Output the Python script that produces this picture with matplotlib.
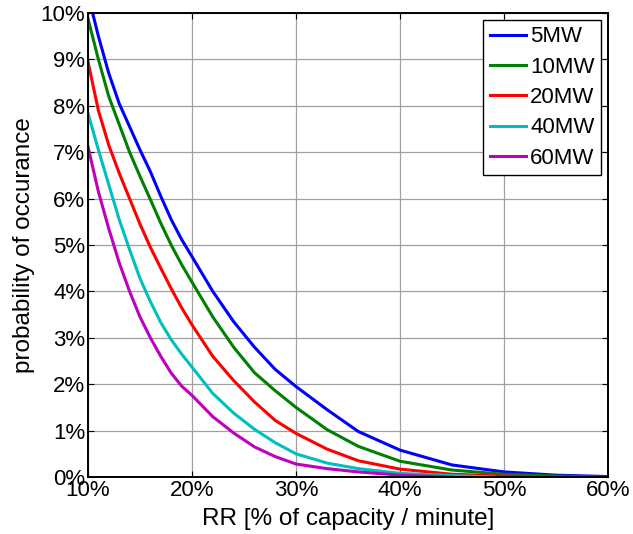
import matplotlib.pyplot as plt
from matplotlib.ticker import FuncFormatter

plt.rcParams['font.family'] = ['Liberation Sans', 'DejaVu Sans']

# ramp rate, % of capacity per minute
rr = [10, 11, 12, 13, 14, 15, 16, 17, 18, 19, 20, 22, 24, 26, 28, 30, 33, 36, 40, 45, 50, 55, 60]

# probability of occurance, %
p5 = [10.4, 9.5, 8.7, 8.05, 7.55, 7.05, 6.58, 6.05, 5.55, 5.12, 4.75, 4.0, 3.35, 2.8, 2.32, 1.95, 1.45, 0.98, 0.58, 0.26, 0.11, 0.04, 0.01]
p10 = [9.88, 9.0, 8.2, 7.6, 7.0, 6.48, 5.98, 5.47, 5.0, 4.58, 4.2, 3.45, 2.8, 2.25, 1.86, 1.5, 1.02, 0.66, 0.34, 0.15, 0.06, 0.02, 0.0]
p20 = [8.95, 7.9, 7.15, 6.55, 6.0, 5.45, 4.95, 4.5, 4.06, 3.65, 3.28, 2.6, 2.08, 1.62, 1.22, 0.94, 0.6, 0.35, 0.17, 0.06, 0.02, 0.0]
p40 = [7.84, 7.05, 6.3, 5.55, 4.9, 4.28, 3.78, 3.33, 2.96, 2.65, 2.37, 1.8, 1.38, 1.03, 0.74, 0.5, 0.3, 0.18, 0.08, 0.03, 0.0]
p60 = [7.12, 6.15, 5.35, 4.62, 4.0, 3.45, 3.0, 2.6, 2.24, 1.96, 1.76, 1.3, 0.95, 0.65, 0.44, 0.28, 0.18, 0.11, 0.04, 0.0]

# where each series ends (last x value)
rr20 = rr[:21] + [56]
rr40 = rr[:20] + [49]
rr60 = rr[:19] + [45]

fig = plt.figure(figsize=(6.33, 5.34), dpi=100)
ax = fig.add_axes([0.139, 0.1067, 0.8215, 0.869])

lw = 2.2
ax.plot(rr, p5, color=(0, 0, 1), lw=lw, label='5MW')
ax.plot(rr, p10, color=(0, 0.5, 0), lw=lw, label='10MW')
ax.plot(rr20, p20, color=(1, 0, 0), lw=lw, label='20MW')
ax.plot(rr40, p40, color=(0, 0.75, 0.75), lw=lw, label='40MW')
ax.plot(rr60, p60, color=(0.75, 0, 0.75), lw=lw, label='60MW')

ax.set_xlim(10, 60)
ax.set_ylim(0, 10)
ax.set_xticks(range(10, 61, 10))
ax.set_yticks(range(0, 11, 1))
pct = FuncFormatter(lambda v, pos: '%d%%' % v)
ax.xaxis.set_major_formatter(pct)
ax.yaxis.set_major_formatter(pct)

ax.grid(True, color='#a0a0a0', lw=0.9)
ax.set_axisbelow(True)
ax.tick_params(direction='in', top=True, right=True, labelsize=16, length=4, pad=2)
for s in ax.spines.values():
    s.set_linewidth(1.4)

ax.set_xlabel('RR [% of capacity / minute]', fontsize=17.5, labelpad=5)
ax.set_ylabel('probability of occurance', fontsize=17.5, labelpad=4)

leg = ax.legend(loc='upper right', fontsize=16, fancybox=False, framealpha=1,
                edgecolor='black', handlelength=1.6, handletextpad=0.2,
                labelspacing=0.42, borderpad=0.3, borderaxespad=0.3)
leg.get_frame().set_linewidth(1.0)

fig.savefig('out.png', dpi=100)
